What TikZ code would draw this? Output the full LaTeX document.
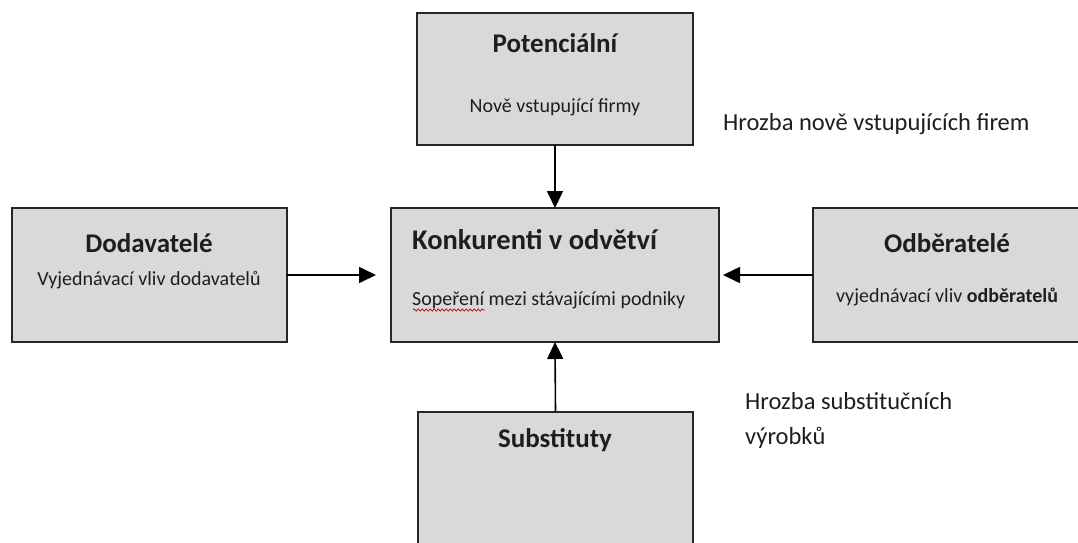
\documentclass[tikz,border=0pt]{standalone}
\usepackage{fontspec}
\setmainfont{Carlito}
\usetikzlibrary{arrows.meta,decorations.pathmorphing}
\definecolor{boxfill}{HTML}{D9D9D9}
\definecolor{boxline}{HTML}{262626}
\definecolor{txt}{HTML}{1E1E1E}
\begin{document}
\begin{tikzpicture}[x=1pt,y=-1pt,
  box/.style={draw=boxline,fill=boxfill,line width=1.6pt,inner sep=0pt,outer sep=0pt},
  ttl/.style={font=\fontsize{27}{32}\selectfont\bfseries,text=txt,inner sep=0pt},
  sub/.style={font=\fontsize{20}{24}\selectfont,text=txt,inner sep=0pt},
  note/.style={font=\fontsize{24.5}{35}\selectfont,text=txt,inner sep=0pt,align=left},
  arr/.style={line width=1.6pt,draw=black,-{Triangle[length=17pt,width=16pt]}}]
\useasboundingbox (0,0) rectangle (1078,542);
\clip (0,0) rectangle (1078,542);
\fill[white] (0,0) rectangle (1078,542);
% boxes
\node[box,minimum width=276pt,minimum height=132pt] (pot) at (555,79) {};
\node[box,minimum width=328pt,minimum height=134pt] (kon) at (555,275) {};
\node[box,minimum width=275pt,minimum height=134pt] (dod) at (149.5,275) {};
\node[box,minimum width=275pt,minimum height=134pt] (odb) at (950.5,275) {};
\node[box,minimum width=275pt,minimum height=150pt] (sbt) at (555.5,487) {};
% texts
\node[ttl] (potT) at (555,43) {Potenciální};
\node[sub] (potS) at (555,107) {Nově vstupující firmy};
\node[ttl,font=\fontsize{28.5}{33}\selectfont\bfseries,anchor=west] (konT) at (412,240) {Konkurenti v odvětví};
\node[sub,anchor=west] (konS) at (412,300) {Sopeření mezi stávajícími podniky};
\node[ttl] (dodT) at (149,243) {Dodavatelé};
\node[sub] (dodS) at (149,280) {Vyjednávací vliv dodavatelů};
\node[ttl] (odbT) at (947,243) {Odběratelé};
\node[sub] (odbS) at (947,297) {vyjednávací vliv \textbf{odběratelů}};
\node[ttl] (sbtT) at (555,440) {Substituty};
\node[note,anchor=west] (hr1) at (723,124) {Hrozba nově vstupujících firem};
\node[note,anchor=north west] (hr2) at (745,392) {Hrozba substitučních\\výrobků};
% spell-check squiggle
\draw[red!80!black,line width=0.7pt,decorate,decoration={snake,amplitude=1.2pt,segment length=4pt}]
  ([xshift=1pt,yshift=-10pt]konS.west) -- ++(72,0);
% arrows
\draw[arr] (pot.south) -- (kon.north);
\draw[arr] (sbt.north) -- (kon.south);
\draw[arr,shorten >=15pt] (dod.east) -- (kon.west);
\draw[arr,shorten >=4pt] (odb.west) -- (kon.east);
\end{tikzpicture}
\end{document}
